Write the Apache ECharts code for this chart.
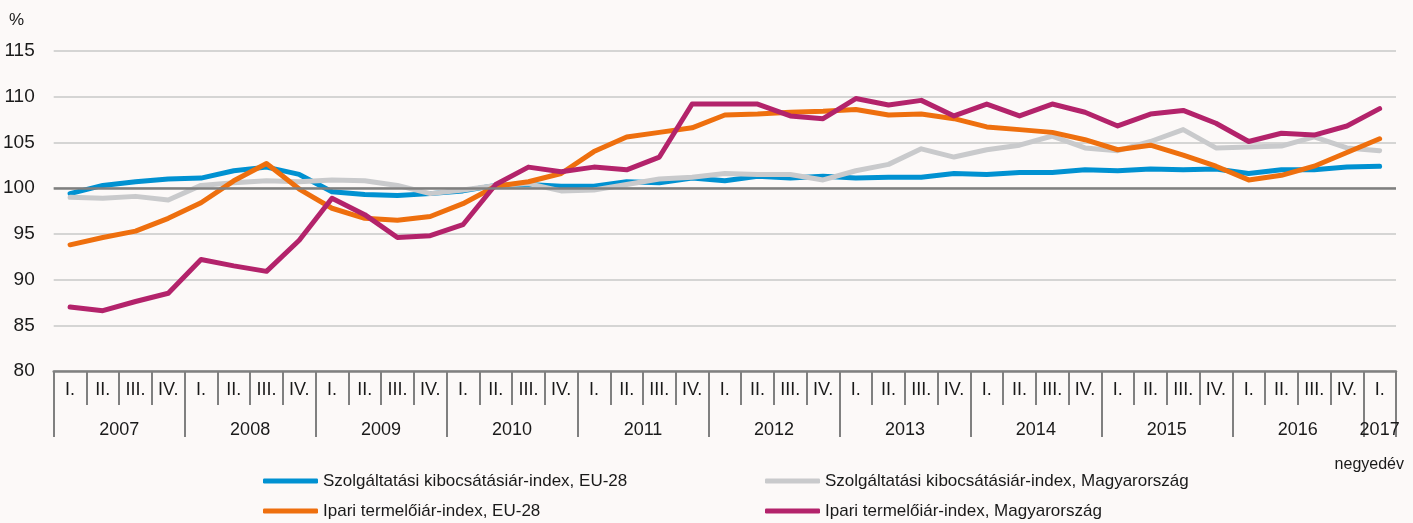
<!DOCTYPE html>
<html>
<head>
<meta charset="utf-8">
<script src="https://cdn.jsdelivr.net/npm/echarts@6/dist/echarts.min.js"></script>
<style>
  html, body { margin: 0; padding: 0; background: #fcf9f8; }
</style>
</head>
<body>
<div id="echart" style="width:1413px;height:523px;"></div>
<script>
  // tick labels
  const years = ['2007', '2008', '2009', '2010', '2011', '2012', '2013', '2014', '2015', '2016', '2017'];
  const quarterNames = ['I.', 'II.', 'III.', 'IV.'];
  const yTicks = [80, 85, 90, 95, 100, 105, 110, 115];

  // series (2007 I. - 2017 I.)
  const szolgEU = [99.4, 100.3, 100.7, 101.0, 101.1, 101.9, 102.3, 101.5, 99.6, 99.3, 99.2, 99.4, 99.7,
    100.3, 100.4, 100.2, 100.2, 100.7, 100.6, 101.1, 100.8, 101.3, 101.1, 101.3, 101.1, 101.2, 101.2,
    101.6, 101.5, 101.7, 101.7, 102.0, 101.9, 102.1, 102.0, 102.1, 101.6, 102.0, 102.0, 102.3, 102.4];
  const szolgHU = [99.0, 98.9, 99.1, 98.7, 100.3, 100.6, 100.8, 100.7, 100.9, 100.8, 100.3, 99.4, 99.8,
    100.3, 100.5, 99.7, 99.8, 100.4, 101.0, 101.2, 101.6, 101.5, 101.5, 100.9, 101.9, 102.6, 104.3,
    103.4, 104.2, 104.7, 105.7, 104.4, 104.1, 105.1, 106.4, 104.4, 104.5, 104.6, 105.6, 104.4, 104.1];
  const ipariEU = [93.8, 94.6, 95.3, 96.7, 98.4, 100.8, 102.7, 99.9, 97.8, 96.7, 96.5, 96.9, 98.3,
    100.2, 100.7, 101.6, 104.0, 105.6, 106.1, 106.6, 108.0, 108.1, 108.3, 108.4, 108.6, 108.0, 108.1,
    107.6, 106.7, 106.4, 106.1, 105.3, 104.2, 104.7, 103.6, 102.4, 100.9, 101.4, 102.4, 103.9, 105.4];
  const ipariHU = [87.0, 86.6, 87.6, 88.5, 92.2, 91.5, 90.9, 94.3, 98.9, 97.1, 94.6, 94.8, 96.0,
    100.4, 102.3, 101.8, 102.3, 102.0, 103.4, 109.2, 109.2, 109.2, 107.9, 107.6, 109.8, 109.1, 109.6,
    107.9, 109.2, 107.9, 109.2, 108.3, 106.8, 108.1, 108.5, 107.1, 105.1, 106.0, 105.8, 106.8, 108.7];

  const seriesNames = [
    'Szolgáltatási kibocsátásiár-index, EU-28',
    'Szolgáltatási kibocsátásiár-index, Magyarország',
    'Ipari termelőiár-index, EU-28',
    'Ipari termelőiár-index, Magyarország'
  ];
  const colors = ['#0091d1', '#c9cacc', '#ee6f0e', '#b3236b'];

  const font = "'Liberation Sans', Arial, sans-serif";

  // negyedév kategóriák
  const quarters = [];
  for (let i = 0; i < szolgEU.length; i++) {
    quarters.push(quarterNames[i % 4]);
  }
  // év sor: fél-negyedéves osztás, a feliratok az évek közepére kerülnek
  const yearSlots = [];
  for (let j = 0; j <= quarters.length * 2; j++) {
    let label = '';
    if (j % 8 === 4) label = years[Math.floor(j / 8)];
    if (j === quarters.length * 2 - 1) label = years[years.length - 1];
    yearSlots.push(label);
  }

  let myChart = echarts.init(document.getElementById('echart'));
  let option = {
    backgroundColor: '#fcf9f8',
    animation: false,
    title: [
      { text: '%', left: 4, top: 7, textStyle: { fontFamily: font, fontSize: 17, fontWeight: 'normal', color: '#1a1a1a' } },
      { text: 'negyedév', right: 4, top: 452, textStyle: { fontFamily: font, fontSize: 16, fontWeight: 'normal', color: '#1a1a1a' } }
    ],
    legend: [
      {
        orient: 'vertical', left: 263, top: 472, height: 60, padding: 0, itemWidth: 55, itemHeight: 5, itemGap: 12,
        icon: 'roundRect', data: [seriesNames[0], seriesNames[2]],
        textStyle: { fontFamily: font, fontSize: 17, lineHeight: 18, color: '#1a1a1a' }
      },
      {
        orient: 'vertical', left: 765, top: 472, height: 60, padding: 0, itemWidth: 55, itemHeight: 5, itemGap: 12,
        icon: 'roundRect', data: [seriesNames[1], seriesNames[3]],
        textStyle: { fontFamily: font, fontSize: 17, lineHeight: 18, color: '#1a1a1a' }
      }
    ],
    grid: { left: 53, right: 17, top: 51, bottom: 152, containLabel: false },
    xAxis: [
      {
        type: 'category',
        data: quarters,
        boundaryGap: true,
        axisLine: { lineStyle: { color: '#808080', width: 2.5 } },
        axisTick: { show: true, interval: 0, length: 34, lineStyle: { color: '#808080', width: 2 } },
        axisLabel: { interval: 0, margin: 10, fontFamily: font, fontSize: 18, color: '#1a1a1a' }
      },
      {
        type: 'category',
        data: yearSlots,
        boundaryGap: false,
        position: 'bottom',
        axisLine: { show: false },
        axisTick: {
          show: true, length: 66, lineStyle: { color: '#808080', width: 2 },
          interval: function (i) { return i % 8 === 0 || i === quarters.length * 2; }
        },
        axisLabel: { interval: 0, margin: 50, fontFamily: font, fontSize: 18, color: '#1a1a1a' }
      }
    ],
    yAxis: {
      type: 'value',
      min: yTicks[0],
      max: yTicks[yTicks.length - 1],
      interval: 5,
      axisLine: { show: false },
      axisTick: { show: false },
      splitLine: { lineStyle: { color: '#c8c8c8', width: 1.5 } },
      axisLabel: { margin: 19, fontFamily: font, fontSize: 19, color: '#1a1a1a' }
    },
    series: [szolgEU, szolgHU, ipariEU, ipariHU].map(function (d, k) {
      let s = {
        name: seriesNames[k],
        type: 'line',
        xAxisIndex: 0,
        data: d,
        symbol: 'none',
        color: colors[k],
        lineStyle: { color: colors[k], width: 5, join: 'round', cap: 'round' }
      };
      if (k === 0) {
        s.markLine = {
          silent: true, symbol: 'none', label: { show: false },
          lineStyle: { color: '#7f7f7f', width: 2.5, type: 'solid' },
          data: [{ yAxis: 100 }]
        };
      }
      return s;
    })
  };
  myChart.setOption(option);
</script>
</body>
</html>
